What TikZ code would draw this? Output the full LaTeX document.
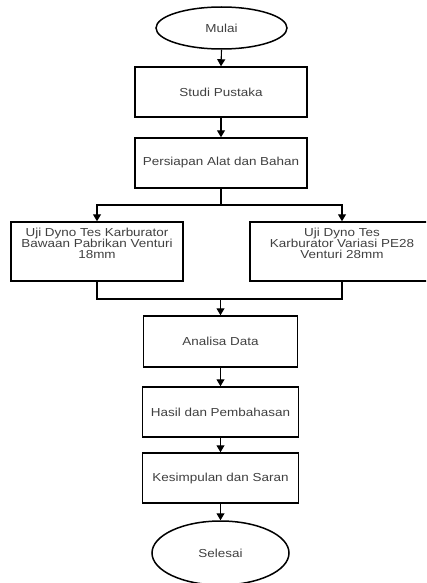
\documentclass[tikz,border=0pt]{standalone}
\usepackage{fontspec}
\setmainfont{Liberation Sans}[FakeStretch=1.16]
\usetikzlibrary{shapes.geometric,arrows.meta}
\definecolor{txt}{HTML}{404040}
\tikzset{
  procbox/.style={draw=black, line width=1.5pt, rectangle, align=center, text=txt,
    font=\fontsize{11.6}{11}\selectfont, inner sep=0pt},
  boxlabel/.style={align=center, text=txt, font=\fontsize{11.6}{11}\selectfont, yshift=8pt},
  termin/.style={draw=black, line width=1.5pt, ellipse, text=txt,
    font=\fontsize{11.6}{11}\selectfont, inner sep=0pt},
  conn/.style={line width=1.1pt, draw=black},
  arr/.style={conn, -{Triangle[width=8pt,length=7pt]}}
}
\begin{document}
\begin{tikzpicture}[x=1pt,y=-1pt]
\useasboundingbox (0,0) rectangle (426,583);
\clip (0,0) rectangle (426,583);
\node[termin, minimum width=131pt, minimum height=42pt] (mulai) at (221.5,28) {Mulai};
\node[procbox, minimum width=172pt, minimum height=50pt] (studi) at (221,92) {Studi Pustaka};
\node[procbox, minimum width=172pt, minimum height=50pt] (persiapan) at (221,163) {Persiapan Alat dan Bahan};
\node[procbox, minimum width=172pt, minimum height=59pt,
  label={[boxlabel]center:{Uji Dyno Tes Karburator\\Bawaan Pabrikan Venturi\\18mm}}] (left) at (97,251.5) {};
\node[procbox, minimum width=184pt, minimum height=59pt,
  label={[boxlabel]center:{Uji Dyno Tes\\Karburator Variasi PE28\\Venturi 28mm}}] (right) at (342,251.5) {};
\node[procbox, minimum width=154pt, minimum height=51pt] (analisa) at (220.5,341.5) {Analisa Data};
\node[procbox, minimum width=156pt, minimum height=50pt] (hasil) at (220.5,412) {Hasil dan Pembahasan};
\node[procbox, minimum width=156pt, minimum height=50pt] (kesimpulan) at (220.5,478) {Kesimpulan dan Saran};
\node[termin, minimum width=137pt, minimum height=64pt] (selesai) at (220.5,553) {Selesai};
\coordinate (split) at (221,205);
\coordinate (merge) at (220.5,299);
\draw[arr] (mulai.south) -- (studi.north);
\draw[arr] (studi.south) -- (persiapan.north);
\draw[conn] (persiapan.south) -- (split);
\draw[arr] (split) -| (left.north);
\draw[arr] (split) -| (right.north);
\draw[conn] (left.south) |- (merge);
\draw[conn] (right.south) |- (merge);
\draw[arr] (merge) -- (analisa.north);
\draw[arr] (analisa.south) -- (hasil.north);
\draw[arr] (hasil.south) -- (kesimpulan.north);
\draw[arr] (kesimpulan.south) -- (selesai.north);
\end{tikzpicture}
\end{document}
